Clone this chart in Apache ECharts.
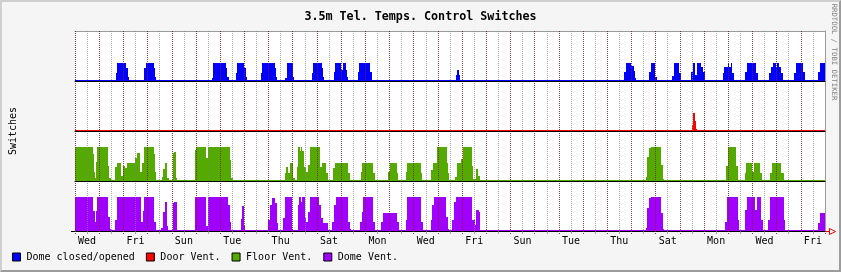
<!DOCTYPE html>
<html><head><meta charset="utf-8">
<script src="https://cdn.jsdelivr.net/npm/echarts/dist/echarts.min.js"></script>
<style>
html,body{margin:0;padding:0;background:#F5F5F5;}
#wrap{position:relative;width:841px;height:272px;}
#c{position:absolute;left:0;top:0;width:841px;height:272px;}
#frame{position:absolute;left:0;top:0;width:841px;height:272px;box-sizing:border-box;border-top:2px solid #CFCFCF;border-left:2px solid #CFCFCF;border-right:2px solid #9C9C9C;border-bottom:2px solid #9C9C9C;pointer-events:none;}
</style></head><body>
<div id="wrap"><div id="c"></div><div id="frame"></div></div>
<script>
// time axis: hours since start of the 31-day window
const dayNames = ['Wed','Thu','Fri','Sat','Sun','Mon','Tue','Wed','Thu','Fri','Sat','Sun','Mon','Tue','Wed','Thu','Fri','Sat','Sun','Mon','Tue','Wed','Thu','Fri','Sat','Sun','Mon','Tue','Wed','Thu','Fri'];
const seriesNames = ['Dome closed/opened','Door Vent.','Floor Vent.','Dome Vent.'];

// step data: [hour, value] (value holds until next hour)
const domeSteps = [[0,0],[40.7,0.45],[42,1],[50.6,0.75],[52.3,0.2],[53.6,0],[68.4,0.7],[70.1,1],[78.1,0.75],[79.4,0.2],[80.4,0],
[135.9,0.1],[137.2,1],[149.5,0.75],[151.1,0.2],[152.5,0],[159.7,0.45],[161,1],[168,0.75],[169.3,0.2],[170.6,0],
[184.5,0.45],[185.8,1],[198.1,0.75],[199.1,0.2],[200.1,0],[208.6,0.1],[210,1],[216,0.2],[217.2,0],
[234.8,0.45],[236.4,1],[244.7,0.75],[246,0.2],[247,0],[256.9,0.5],[258.4,1],[264.2,0.6],[265.9,1],[268.8,0.6],[270.1,0.2],[271.1,0],
[280.7,0.5],[282.2,1],[292.3,0.5],[294.6,0],[378,0.3],[379.2,0.62],[380.9,0.3],[382.4,0],
[544.6,0.5],[546.3,1],[551.9,0.85],[554.2,0.55],[555.5,0.15],[556.5,0],[569.7,0.5],[571.1,1],[575.2,0.2],[577,0],
[592.7,0.25],[594.2,1],[599.2,0.4],[600.9,0],[611.4,0.5],[612.8,1],[614.7,0.3],[617.3,1],[620.7,0.8],[622.7,0.5],[624.7,0],
[642.8,0.45],[644.1,0.8],[647.5,1],[648.8,0.8],[650.5,1],[652.1,0.45],[654,0],[664.6,0.5],[666.3,1],[675.4,0.4],[677.5,0],
[688.4,0.45],[690.1,0.8],[692.4,1],[695.1,0.8],[696.4,1],[698.4,0.8],[700.4,0.45],[702.3,0],
[713.2,0.45],[714.9,1],[722.2,0.5],[724.2,0],[737.1,0.5],[738.7,1],[744,1]];

const doorSteps = [[0,0],[611.6,0.3],[612.8,1],[614.7,0.55],[615.7,0.06],[617,0],[744,0]];

const floorSteps = [[0,2],[17.9,1.56],[18.8,0.48],[19.8,0.12],[20.8,1.1],[21.8,2],[32.7,0.85],[34,0.12],[35.4,0],
[40,0.8],[41.4,1],[45.6,0.27],[47.9,0.85],[49.3,0.7],[51.3,1],[59.8,1.3],[61.8,1.62],[64.5,0.48],[66.1,1],[68.4,2],
[78.4,1.56],[79.7,0.48],[80.7,0],[86.3,0.2],[87.6,0.65],[89.3,1],[91,0.12],[93,0],[96.9,1.65],[98.2,1.7],[100.2,0.12],[101.5,0],
[118.7,1.8],[120,2],[130.3,1.3],[132.2,2],[153.8,1.2],[155.1,0.12],[156.7,0],
[208.3,0.42],[209.6,0.8],[211.6,0.42],[213.3,1],[216.6,0.12],[217.9,0],[220.2,0.8],[221.5,2],[222.9,1.73],[224.2,2],[225.5,1.73],
[227.5,0.8],[229.5,0.48],[230.8,0.9],[232.8,2],[242.7,0.8],[244.7,1],[248.7,0.4],[251,0],
[256.2,0.7],[257.9,1],[271.1,0.4],[272.8,0],[283.4,0.48],[285,1],[295.6,0.4],[297.3,0],[310.5,0.48],[312.2,1],[319.1,0.4],[320.4,0],
[328.1,0.48],[329.6,1],[342.9,0.4],[344.5,0],[353.5,0.6],[355.4,1],[359.4,2],[368.7,1],[370,0.4],[371.5,0],
[377,0.2],[378.9,1],[383.2,1.25],[384.9,2],[393.5,0.85],[394.8,0.05],[398.1,0.65],[399.5,0.27],[401.5,0],
[566.4,0.2],[567.7,1.4],[569.7,1.9],[571.1,2],[581.6,0.9],[583,0.05],[584.3,0],
[646.1,0.85],[648.1,2],[655.4,0.85],[657.4,0],[664.6,0.4],[665.9,1],[671.9,0.48],[673.9,1],[679.2,0.4],[681.2,0],
[689.1,0.4],[691.1,1],[700.4,0.4],[703,0],[744,0]];

const domeVentSteps = [[0,2],[17.9,1.15],[19.5,0.48],[20.8,1.15],[22.1,2],[33,0.8],[34.7,0.06],[36,0],[39.4,0.6],[41.4,2],
[65.2,0.5],[67.2,1.15],[68.4,2],[78.4,0.5],[80.1,0],[85.6,0.1],[87.6,1.1],[89,1.7],[91,0.27],[92.3,0],
[96.9,1.6],[98.2,1.7],[100.9,0.1],[101.5,0],[118.7,2],[129.7,0.27],[132.2,2],[151.8,1.5],[153.5,0.48],[155.1,0],
[164.4,0.65],[166,1.45],[167.6,0.27],[168.6,0],[191.8,0.6],[193.4,1.5],[195.4,1.95],[198.4,1.6],[200.4,0.4],[201.4,0],
[206.3,0.7],[208.3,2],[215.6,0.06],[216.6,0],[220.9,1.5],[222.2,2],[224.2,1.7],[225.5,2],[228.2,0.7],[229.5,0.48],[231.4,1.1],[232.8,2],
[242,1.5],[244,0.7],[246.5,0.45],[250.8,0],[255.2,0.5],[256.9,1.5],[258.6,2],[270.8,0.48],[272.5,0.06],[273.5,0],
[282.7,0.48],[284.4,1.1],[285.7,2],[295.6,0.48],[297.3,0],[303.9,0.48],[305.8,1],[319.7,0.48],[321.7,0],
[328.1,0.6],[329.6,2],[343.5,0.48],[345.2,0],[352.9,0.6],[354.4,1.5],[356.1,2],[368.5,0.8],[370,0.06],[371.5,0],
[374.3,0.6],[376,1.7],[377.7,2],[393.5,0.6],[396.5,0.3],[397.5,1.2],[400.3,1.1],[401.5,0],
[566.4,0.1],[567.7,1.3],[569.7,1.95],[571.1,2],[581.6,1],[583,0.06],[584.3,0],
[644.8,0.5],[647.1,2],[657.4,0.6],[658.7,0],[664.6,1.2],[666.3,2],[674.6,1.2],[676.5,2],[680.5,0.6],[682.2,0],
[687.8,0.6],[689.4,2],[703,0.6],[704.6,0],[737.4,0.45],[738.8,1],[744,1]];

const seriesColors = ['#0000FF','#FF0000','#54AA00','#A000FF'];
const allSteps = [domeSteps, doorSteps, floorSteps, domeVentSteps];

const MONO = 'DejaVu Sans Mono';
const bandTop = 31, bandH = 50, plotLeft = 75, plotW = 750;
const pxPerUnit = 16.6;
const yMin = -1 / pxPerUnit, yMax = yMin + bandH / pxPerUnit;
const majorCol = 'rgba(130,30,30,0.85)', minorCol = 'rgba(130,130,130,0.7)';

// [start hour, end hour, value] segments for each step
function toSegments(steps) {
  const out = [];
  for (let i = 0; i < steps.length - 1; i++) out.push([steps[i][0], steps[i + 1][0], steps[i][1]]);
  return out;
}
function makeRender(color) {
  return function (params, api) {
    const x0 = Math.round(api.coord([api.value(0), 0])[0]);
    const x1 = Math.round(api.coord([api.value(1), 0])[0]);
    const yT = Math.round(api.coord([0, api.value(2)])[1]);
    const yB = Math.round(api.coord([0, yMin])[1]);
    if (x1 <= x0) return null;
    return {type: 'rect', shape: {x: x0, y: yT, width: x1 - x0, height: yB - yT},
      style: {fill: color, stroke: null}};
  };
}

const grids = [], xAxes = [], yAxes = [], series = [];
for (let i = 0; i < 4; i++) {
  grids.push({left: plotLeft, width: plotW, top: bandTop + bandH * i, height: bandH,
    show: true, backgroundColor: '#FFFFFF', borderWidth: 0, containLabel: false, outerBoundsMode: 'none'});
  xAxes.push({type: 'value', gridIndex: i, min: 0, max: 744, interval: 24, position: 'bottom', z: 5,
    axisLine: {show: true, onZero: false, lineStyle: {color: '#000', width: 1}},
    axisTick: {show: i === 3, length: 3, lineStyle: {color: majorCol, type: [1, 1]}},
    minorTick: {show: i === 3, splitNumber: 2, length: 3, lineStyle: {color: minorCol}},
    axisLabel: {show: false},
    splitLine: {show: true, showMinLine: true, showMaxLine: false, lineStyle: {color: majorCol, width: 1, type: [1, 1]}},
    minorSplitLine: {show: true, lineStyle: {color: minorCol, width: 1, type: [1, 1]}}
  });
  yAxes.push({type: 'value', gridIndex: i, min: yMin, max: yMax, position: 'right', z: 5,
    axisLine: {show: true, onZero: false, lineStyle: {color: '#9A9A9A', width: 1}},
    axisTick: {show: false}, axisLabel: {show: false}, splitLine: {show: false}});
  series.push({type: 'custom', name: seriesNames[i], xAxisIndex: i, yAxisIndex: i,
    data: toSegments(allSteps[i]), encode: {x: [0, 1], y: 2}, silent: true, clip: true,
    itemStyle: {color: seriesColors[i]}, renderItem: makeRender(seriesColors[i])});
}
// day labels (centered on each day)
xAxes.push({type: 'category', gridIndex: 3, data: dayNames, boundaryGap: true, position: 'bottom',
  axisLine: {show: false}, axisTick: {show: false}, splitLine: {show: false},
  axisLabel: {interval: 1, margin: 5, fontFamily: MONO, fontSize: 10, color: '#000'}});
// top frame line
xAxes.push({type: 'value', gridIndex: 0, min: 0, max: 744, position: 'top',
  axisLine: {show: true, onZero: false, lineStyle: {color: '#9A9A9A', width: 1}},
  axisTick: {show: false}, axisLabel: {show: false}, splitLine: {show: false}});

const chart = echarts.init(document.getElementById('c'), null, {renderer: 'canvas'});
chart.setOption({
  animation: false,
  backgroundColor: '#F5F5F5',
  title: {text: '3.5m Tel. Temps. Control Switches', left: 'center', top: 6,
    textStyle: {fontFamily: MONO, fontSize: 11.7, fontWeight: 'bold', color: '#000'}},
  legend: {left: 12, top: 252, padding: 0, itemWidth: 8, itemHeight: 8, itemGap: 11, icon: 'rect',
    itemStyle: {borderColor: '#000', borderWidth: 1},
    textStyle: {fontFamily: MONO, fontSize: 10, color: '#000', padding: [0, 0, 0, 1]},
    data: seriesNames},
  grid: grids, xAxis: xAxes, yAxis: yAxes, series: series,
  graphic: [
    {type: 'text', x: 13, y: 131, rotation: Math.PI / 2,
      style: {text: 'Switches', fill: '#000', font: '10px "DejaVu Sans Mono"', align: 'center', verticalAlign: 'middle'}},
    {type: 'text', x: 833.5, y: 52, rotation: -Math.PI / 2,
      style: {text: 'RRDTOOL / TOBI OETIKER', fill: '#808080', font: '7.3px "DejaVu Sans Mono"', align: 'center', verticalAlign: 'middle'}},
    {type: 'line', shape: {x1: 71, y1: 231.5, x2: 75, y2: 231.5}, style: {stroke: '#000', lineWidth: 1}},
    {type: 'polyline', shape: {points: [[825, 231.5], [829.5, 231.5]]}, style: {stroke: '#FF0000', lineWidth: 1, fill: null}},
    {type: 'polygon', shape: {points: [[829.5, 228.5], [835.5, 231.5], [829.5, 234.5]]}, style: {stroke: '#FF0000', lineWidth: 1, fill: 'none'}}
  ]
});
</script>
</body></html>
